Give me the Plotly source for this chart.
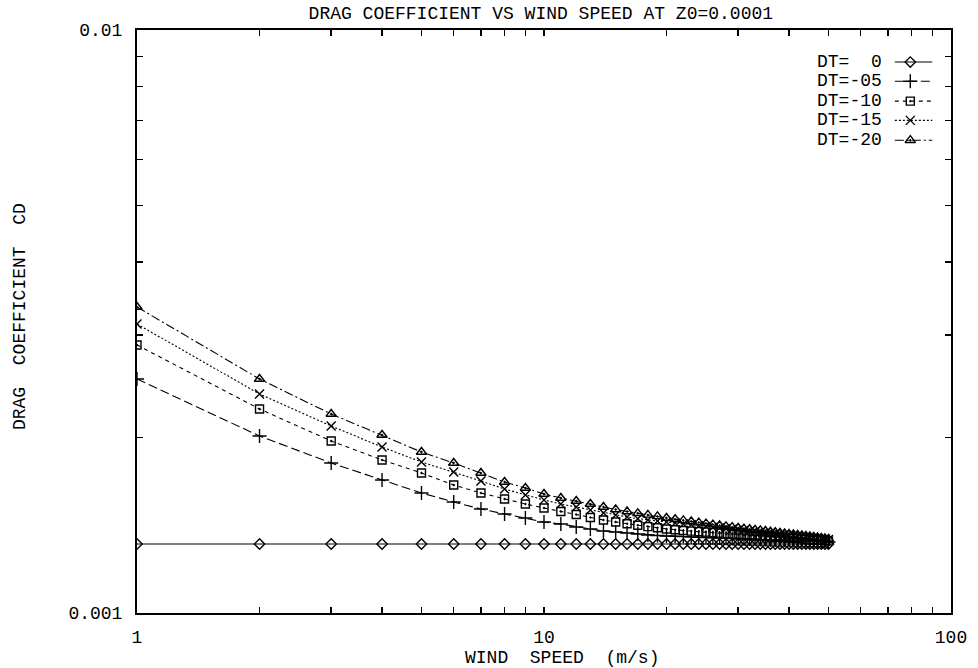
import plotly.graph_objects as go

# ---------------- data ----------------
wind_speed = list(range(1, 51))

cd_dt0 = [1.313] * 50

cd_dt05 = [2.5198, 2.0118, 1.8084, 1.6910, 1.6063, 1.5502, 1.5079, 1.4785, 1.4553, 1.4325,
           1.4212, 1.4045, 1.3934, 1.3825, 1.3770, 1.3716, 1.3662, 1.3608, 1.3581, 1.3554,
           1.3538, 1.3522, 1.3506, 1.3490, 1.3474, 1.3461, 1.3448, 1.3434, 1.3421, 1.3410,
           1.3400, 1.3389, 1.3379, 1.3368, 1.3363, 1.3352, 1.3342, 1.3334, 1.3326, 1.3315,
           1.3310, 1.3305, 1.3297, 1.3289, 1.3279, 1.3271, 1.3263, 1.3255, 1.3247, 1.3237]

cd_dt10 = [2.8820, 2.2383, 1.9725, 1.8299, 1.7383, 1.6579, 1.6063, 1.5687, 1.5380, 1.5139,
           1.4931, 1.4755, 1.4582, 1.4438, 1.4325, 1.4223, 1.4139, 1.4067, 1.4000, 1.3934,
           1.3890, 1.3852, 1.3819, 1.3792, 1.3764, 1.3737, 1.3711, 1.3684, 1.3657, 1.3635,
           1.3614, 1.3592, 1.3571, 1.3549, 1.3528, 1.3512, 1.3496, 1.3480, 1.3464, 1.3448,
           1.3432, 1.3416, 1.3400, 1.3384, 1.3368, 1.3352, 1.3337, 1.3321, 1.3305, 1.3289]

cd_dt15 = [3.1312, 2.3749, 2.0929, 1.9263, 1.8155, 1.7452, 1.6843, 1.6319, 1.5937, 1.5625,
           1.5380, 1.5199, 1.5020, 1.4843, 1.4726, 1.4611, 1.4513, 1.4438, 1.4376, 1.4319,
           1.4268, 1.4218, 1.4167, 1.4117, 1.4073, 1.4034, 1.3995, 1.3957, 1.3918, 1.3879,
           1.3846, 1.3814, 1.3781, 1.3748, 1.3716, 1.3689, 1.3662, 1.3635, 1.3608, 1.3581,
           1.3560, 1.3538, 1.3517, 1.3496, 1.3474, 1.3453, 1.3432, 1.3410, 1.3389, 1.3368]

cd_dt20 = [3.3486, 2.5198, 2.1945, 2.0198, 1.8887, 1.8084, 1.7383, 1.6776, 1.6384, 1.6000,
           1.5749, 1.5563, 1.5380, 1.5199, 1.5050, 1.4931, 1.4826, 1.4732, 1.4645, 1.4553,
           1.4484, 1.4416, 1.4353, 1.4291, 1.4235, 1.4178, 1.4128, 1.4078, 1.4034, 1.3990,
           1.3957, 1.3923, 1.3890, 1.3857, 1.3825, 1.3792, 1.3759, 1.3727, 1.3694, 1.3662,
           1.3635, 1.3608, 1.3581, 1.3554, 1.3528, 1.3501, 1.3474, 1.3448, 1.3421, 1.3394]

series_names = ["DT=\u00a0\u00a00", "DT=-05", "DT=-10", "DT=-15", "DT=-20"]
series_values_e3 = [cd_dt0, cd_dt05, cd_dt10, cd_dt15, cd_dt20]   # in units of 0.001

x_tickvals = [1, 2, 3, 4, 5, 6, 7, 8, 9, 10, 20, 30, 40, 50, 60, 70, 80, 90, 100]
x_ticktext = ["1"] + [""] * 8 + ["10"] + [""] * 8 + ["100"]
y_tickvals = [0.001, 0.002, 0.003, 0.004, 0.005, 0.006, 0.007, 0.008, 0.009, 0.01]
y_ticktext = ["0.001"] + [""] * 8 + ["0.01"]

title_text = "DRAG COEFFICIENT VS WIND SPEED AT Z0=0.0001"
x_title = "WIND\u00a0\u00a0SPEED\u00a0\u00a0(m/s)"
y_title = "DRAG\u00a0\u00a0COEFFICIENT\u00a0\u00a0CD"

# ---------------- styles ----------------
styles = [
    dict(dash="solid", symbol="diamond-open", size=8),
    dict(dash="9px,4px", symbol="cross-thin-open", size=10),
    dict(dash="4px,4px", symbol="square-open-dot", size=8),
    dict(dash="2px,2px", symbol="x-thin-open", size=9),
    dict(dash="9px,3px,2px,3px", symbol="triangle-up-open-dot", size=9),
]
FONT = "Liberation Mono, DejaVu Sans Mono, monospace"
FS = 18

# legend layout (paper fractions)
leg_text_x = 0.918
leg_line_x = [0.931, 0.977]
leg_mark_x = 0.950
leg_rows_y = [0.945, 0.912, 0.878, 0.845, 0.811]

fig = go.Figure()
for name, vals, st in zip(series_names, series_values_e3, styles):
    fig.add_trace(go.Scatter(
        x=wind_speed, y=[v * 1e-3 for v in vals], name=name, mode="lines+markers",
        line=dict(color="black", width=1.1, dash=st["dash"]),
        marker=dict(symbol=st["symbol"], size=st["size"], color="black",
                    line=dict(color="black", width=1.4)),
        showlegend=False,
    ))

# custom legend (text left, sample right, as in the original)
annotations = []
for name, st, ry in zip(series_names, styles, leg_rows_y):
    fig.add_trace(go.Scatter(
        x=leg_line_x, y=[ry, ry], xaxis="x2", yaxis="y2", mode="lines",
        line=dict(color="black", width=1.1, dash=st["dash"]),
        showlegend=False, hoverinfo="skip"))
    fig.add_trace(go.Scatter(
        x=[leg_mark_x], y=[ry], xaxis="x2", yaxis="y2", mode="markers",
        marker=dict(symbol=st["symbol"], size=st["size"], color="black",
                    line=dict(color="black", width=1.4)),
        showlegend=False, hoverinfo="skip"))
    annotations.append(dict(text=name, x=leg_text_x, y=ry, xref="paper", yref="paper",
                            xanchor="right", yanchor="middle", showarrow=False,
                            font=dict(family=FONT, size=FS, color="black")))

annotations.append(dict(text=x_title, x=0.522, y=-0.077, xref="paper", yref="paper",
                        xanchor="center", yanchor="middle", showarrow=False,
                        font=dict(family=FONT, size=FS, color="black")))
annotations.append(dict(text=y_title, x=-0.144, y=0.509, xref="paper", yref="paper",
                        xanchor="center", yanchor="middle", showarrow=False, textangle=-90,
                        font=dict(family=FONT, size=FS, color="black")))

axis_common = dict(
    type="log", automargin=False,
    ticks="inside", ticklen=6, tickwidth=1.5, tickcolor="black",
    showline=True, linecolor="black", linewidth=2, mirror="ticks",
    showgrid=False, zeroline=False,
    tickfont=dict(family=FONT, size=FS, color="black"),
)

fig.update_layout(
    width=978, height=668,
    margin=dict(l=137, r=27, t=30, b=55),
    paper_bgcolor="white", plot_bgcolor="white",
    font=dict(family=FONT, size=FS, color="black"),
    title=dict(text=title_text, x=0.553, xanchor="center", y=0.9805, yanchor="middle",
               font=dict(family=FONT, size=FS, color="black")),
    showlegend=False,
    hovermode=False,
    annotations=annotations,
    xaxis=dict(range=[0, 2], tickvals=x_tickvals, ticktext=x_ticktext,
               ticklabelstandoff=6, **axis_common),
    yaxis=dict(range=[-3, -2], tickvals=y_tickvals, ticktext=y_ticktext,
               ticklabelstandoff=9, **axis_common),
    xaxis2=dict(overlaying="x", range=[0, 1], visible=False, fixedrange=True),
    yaxis2=dict(overlaying="y", range=[0, 1], visible=False, fixedrange=True),
)

# remove the default 8px page margin so the figure sits at the window origin
fig.write_html("out.html",
               config={"displayModeBar": False, "staticPlot": True},
               post_script="document.body.style.margin='0px';document.body.style.overflow='hidden';")
